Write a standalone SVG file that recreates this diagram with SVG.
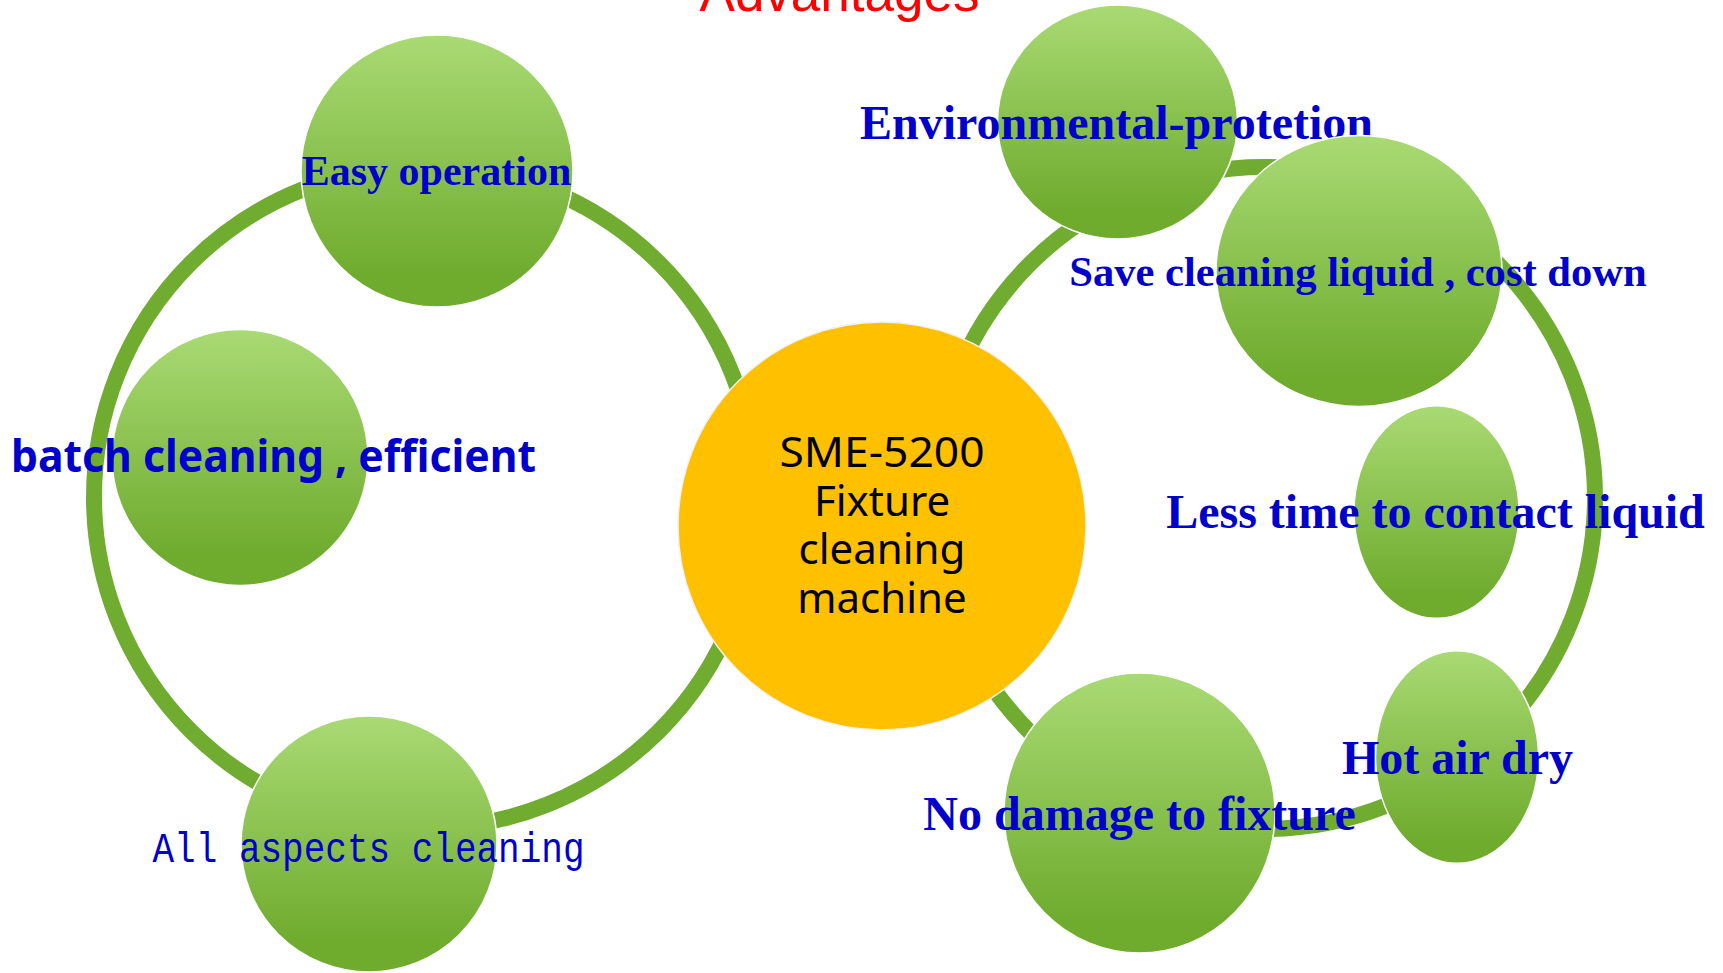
<svg xmlns="http://www.w3.org/2000/svg" width="1723" height="973" viewBox="0 0 1723 973">
<defs>
<linearGradient id="g" x1="0" y1="0" x2="0" y2="1">
<stop offset="0" stop-color="#A9DA74"/>
<stop offset="0.88" stop-color="#6FAC2E"/>
<stop offset="1" stop-color="#6FAC2E"/>
</linearGradient>
<style>
.ring{fill:none;stroke:#6FAC2F;stroke-width:16}
.bub{fill:url(#g);stroke:#ffffff;stroke-width:1.5}
.ser{font-family:"Liberation Serif","Times New Roman",serif;font-weight:bold;fill:#0000CC;text-anchor:middle}
.ctr{font-family:"Noto Sans","Open Sans",sans-serif;font-size:42px;fill:#000;text-anchor:middle}
</style>
</defs>
<rect width="1723" height="973" fill="#ffffff"/>
<text x="839.5" y="10.5" font-family="Liberation Sans, Arial, sans-serif" font-size="53" fill="#FF0000" text-anchor="middle">Advantages</text>
<g id="connectors">
<circle class="ring" cx="425" cy="497" r="331"/>
<circle class="ring" cx="1264" cy="498" r="331"/>
</g>
<g id="center">
<circle cx="882" cy="526" r="204" fill="#FFC000" stroke="#f2f2f2" stroke-width="1.5"/>
<text class="ctr" x="882" y="467" textLength="205" lengthAdjust="spacingAndGlyphs">SME-5200</text>
<text class="ctr" x="882" y="516">Fixture</text>
<text class="ctr" x="882" y="564">cleaning</text>
<text class="ctr" x="882" y="613">machine</text>
</g>
<g id="easy">
<circle class="bub" cx="437" cy="171" r="136"/>
<text class="ser" x="436.5" y="185" font-size="42">Easy operation</text>
</g>
<g id="batch">
<circle class="bub" cx="240" cy="457.5" r="128"/>
<text x="273.5" y="472" font-family="Noto Sans, Open Sans, sans-serif" font-weight="bold" font-size="45" fill="#0000CC" text-anchor="middle" textLength="525" lengthAdjust="spacingAndGlyphs">batch cleaning , efficient</text>
</g>
<g id="aspects">
<circle class="bub" cx="369" cy="844" r="128"/>
<text x="368.5" y="862" font-family="Liberation Mono, Courier New, monospace" font-size="43" fill="#0000CC" text-anchor="middle" textLength="432" lengthAdjust="spacingAndGlyphs">All aspects cleaning</text>
</g>
<g id="env">
<ellipse class="bub" cx="1117.5" cy="122" rx="120" ry="117"/>
<text class="ser" x="1116.5" y="139" font-size="48">Environmental-protetion</text>
</g>
<g id="save">
<ellipse class="bub" cx="1359" cy="271" rx="143" ry="135.5"/>
<text class="ser" x="1358" y="285.5" font-size="42.6">Save cleaning liquid , cost down</text>
</g>
<g id="less">
<ellipse class="bub" cx="1436.5" cy="512" rx="82.5" ry="106.3"/>
<text class="ser" x="1435.5" y="528" font-size="48">Less time to contact liquid</text>
</g>
<g id="hot">
<ellipse class="bub" cx="1457" cy="757" rx="81.5" ry="106.3"/>
<text class="ser" x="1457.5" y="774" font-size="48">Hot air dry</text>
</g>
<g id="nodamage">
<ellipse class="bub" cx="1139.5" cy="813" rx="135.5" ry="140"/>
<text class="ser" x="1139.5" y="830" font-size="48">No damage to fixture</text>
</g>
</svg>
